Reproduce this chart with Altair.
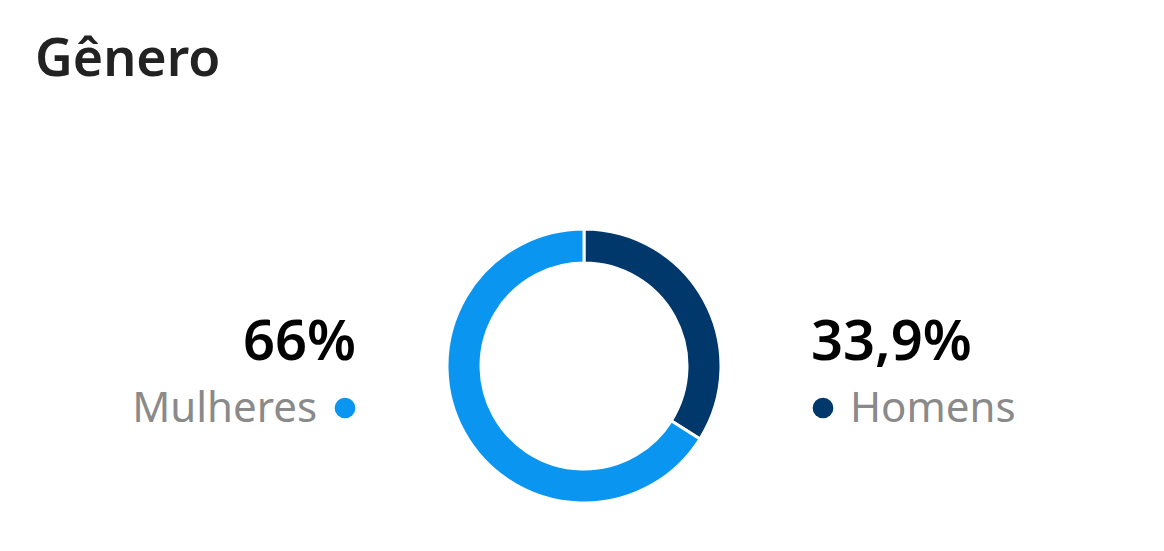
import altair as alt
import pandas as pd

# Data
categories = ["Homens", "Mulheres"]
values = [33.9, 66.0]
pct_labels = ["33,9%", "66%"]
colors = ["#00386B", "#0A96F0"]
order = [0, 1]

df = pd.DataFrame({"cat": categories, "val": values, "pct": pct_labels, "ord": order})

W, H = 1148, 535
CX, CY = 576, 358
FONT = "Noto Sans"

color_scale = alt.Scale(domain=categories, range=colors)

base = alt.Chart(df)

donut = base.mark_arc(innerRadius=103, outerRadius=137, stroke="white", strokeWidth=3).encode(
    theta=alt.Theta("val:Q", stack=True),
    order=alt.Order("ord:Q"),
    color=alt.Color("cat:N", scale=color_scale, legend=None),
    x=alt.value(CX),
    y=alt.value(CY),
)

left = base.transform_filter(alt.datum.cat == "Mulheres")
right = base.transform_filter(alt.datum.cat == "Homens")

left_pct = left.mark_text(font=FONT, fontSize=56, fontWeight=600, align="right", baseline="alphabetic", color="#000000").encode(
    text="pct:N", x=alt.value(348), y=alt.value(352))
left_name = left.mark_text(font=FONT, fontSize=42, align="right", baseline="alphabetic", color="#8A8A8A").encode(
    text="cat:N", x=alt.value(309), y=alt.value(414))
left_dot = left.mark_point(filled=True, size=430, opacity=1, shape="circle").encode(
    color=alt.Color("cat:N", scale=color_scale, legend=None), x=alt.value(337), y=alt.value(400))

right_pct = right.mark_text(font=FONT, fontSize=56, fontWeight=600, align="left", baseline="alphabetic", color="#000000").encode(
    text="pct:N", x=alt.value(803), y=alt.value(352))
right_name = right.mark_text(font=FONT, fontSize=42, align="left", baseline="alphabetic", color="#8A8A8A").encode(
    text="cat:N", x=alt.value(842), y=alt.value(414))
right_dot = right.mark_point(filled=True, size=430, opacity=1, shape="circle").encode(
    color=alt.Color("cat:N", scale=color_scale, legend=None), x=alt.value(815), y=alt.value(400))

chart = alt.layer(donut, left_pct, left_name, left_dot, right_pct, right_name, right_dot).properties(
    width=W, height=H,
    autosize=alt.AutoSizeParams(type="none"),
    padding=0,
    background="white",
    title=alt.TitleParams("Gênero", anchor="start", font=FONT, fontSize=52, fontWeight=600,
                          color="#222222", dx=27, dy=-21, offset=-100),
).configure_view(stroke=None)

chart.save("out.html", embed_options={"renderer": "svg", "actions": False})
